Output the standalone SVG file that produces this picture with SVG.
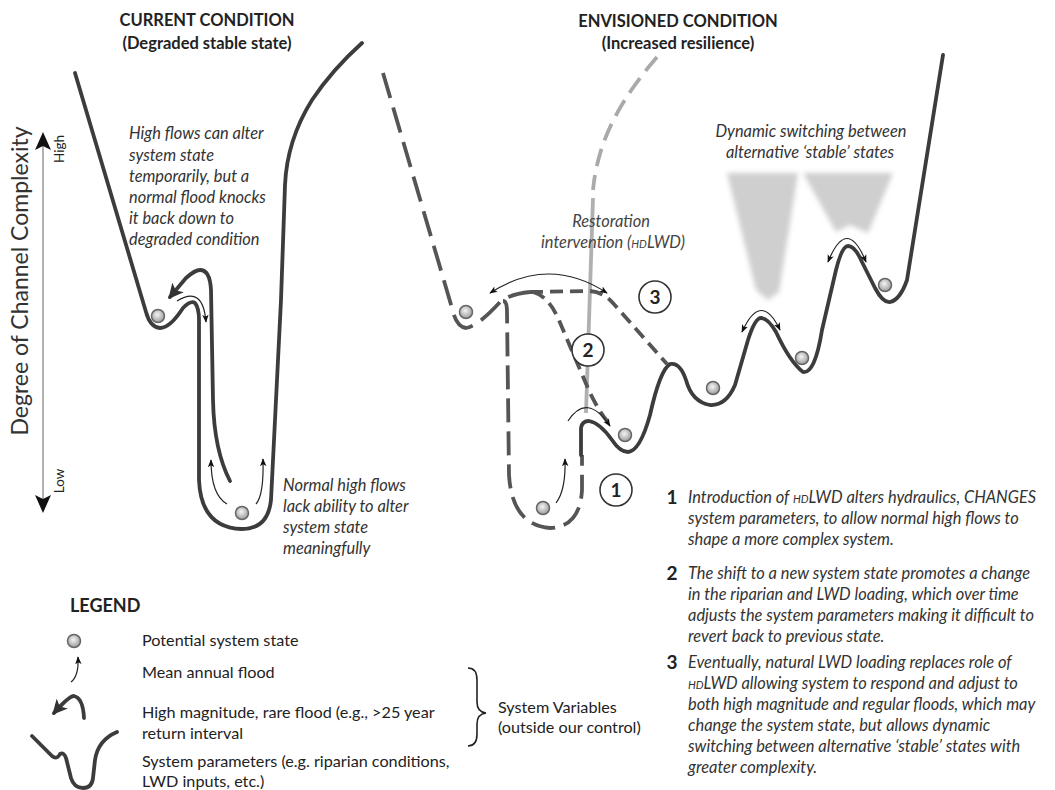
<svg xmlns="http://www.w3.org/2000/svg" width="1055" height="790" viewBox="0 0 1055 790">
<style>
text{font-family:Lato,"Liberation Sans",sans-serif;fill:#222}
.t{font-weight:bold;font-size:16.5px;text-anchor:middle}
.it{font-style:italic;font-size:16.4px;fill:#333}
.lg{font-size:16.2px;fill:#222}
.num{font-weight:bold;font-size:19px;text-anchor:middle}
.sc{font-size:11px}
.prof{fill:none;stroke:#3c3c3c;stroke-width:3.8;stroke-linecap:round;stroke-linejoin:round}
.dash{fill:none;stroke:#555;stroke-width:3.8;stroke-linejoin:round}
.thin{fill:none;stroke:#222;stroke-width:1.2}
.ball{fill:url(#bg);stroke:#666;stroke-width:1.5}
.circ{fill:#fff;stroke:#333;stroke-width:1.6}
</style>
<defs>
<radialGradient id="bg" cx="45%" cy="40%" r="60%"><stop offset="0" stop-color="#f4f4f4"/><stop offset="1" stop-color="#9a9a9a"/></radialGradient>
<marker id="ah" viewBox="0 0 10 10" refX="9" refY="5" markerWidth="8" markerHeight="8" markerUnits="userSpaceOnUse" orient="auto-start-reverse"><path d="M0,1 L10,5 L0,9 L2.5,5 z" fill="#111"/></marker>
<marker id="ahT" viewBox="0 0 12 12" refX="10" refY="6" markerWidth="15" markerHeight="15" markerUnits="userSpaceOnUse" orient="auto"><path d="M0,0 L12,6 L0,12 L3,6 z" fill="#333"/></marker>
<filter id="blur" x="-20%" y="-20%" width="140%" height="140%"><feGaussianBlur stdDeviation="2.5"/></filter>
</defs>
<rect width="1055" height="790" fill="#fff"/>

<g id="titles">
<text class="t" x="207" y="26">CURRENT CONDITION</text>
<text class="t" x="207" y="49">(Degraded stable state)</text>
<text class="t" x="678" y="27">ENVISIONED CONDITION</text>
<text class="t" x="678" y="49">(Increased resilience)</text>
</g>

<g id="axis">
<line x1="43" y1="145" x2="43" y2="500" stroke="#999" stroke-width="1.5"/>
<path d="M43,132 L51,150 L43,146 L35,150 Z" fill="#111"/>
<path d="M43,513 L51,495 L43,499 L35,495 Z" fill="#111"/>
<text x="0" y="0" transform="translate(28,281) rotate(-90)" text-anchor="middle" style="font-size:23px;fill:#333">Degree of Channel Complexity</text>
<text x="0" y="0" transform="translate(64,149) rotate(-90)" text-anchor="middle" style="font-size:13.5px">High</text>
<text x="0" y="0" transform="translate(64,481) rotate(-90)" text-anchor="middle" style="font-size:13.5px">Low</text>
</g>

<g id="current-condition">
<path class="prof" d="M75,73 L146,312 Q150,327 160,328 Q170,328 183,308 Q191,300 195,303 Q199,308 199,320 L199,480 Q201,528 242,529 Q268,529 271,500 L281,300 L285,185 Q287,140 312,100 Q332,70 362,43"/>
<path class="prof" d="M230,481 Q214,450 213,400 L211,290 Q210,270 200,270 Q195,270 186,278 L170,297" marker-end="url(#ahT)"/>
<path class="thin" d="M177,301 Q203,285 206,322" marker-end="url(#ah)"/>
<path class="thin" d="M227,504 Q211,495 211,460" marker-end="url(#ah)"/>
<path class="thin" d="M256,504 Q264,495 263,459" marker-end="url(#ah)"/>
<circle class="ball" cx="158" cy="316" r="6.5"/>
<circle class="ball" cx="242" cy="513" r="6.5"/>
<text class="it" x="129" y="139">High flows can alter</text>
<text class="it" x="129" y="161">system state</text>
<text class="it" x="129" y="182">temporarily, but a</text>
<text class="it" x="129" y="203">normal flood knocks</text>
<text class="it" x="129" y="224">it back down to</text>
<text class="it" x="129" y="245">degraded condition</text>
<text class="it" x="283" y="491">Normal high flows</text>
<text class="it" x="283" y="512">lack ability to alter</text>
<text class="it" x="283" y="533">system state</text>
<text class="it" x="283" y="554">meaningfully</text>
</g>

<g id="envisioned-condition">
<g id="wedges" filter="url(#blur)" fill="#cfcfcf">
<polygon points="727,173 798,173 779,292 768,300 756,290"/>
<polygon points="803,173 893,173 868,233 850,225 836,232"/>
</g>
<path d="M657,57 C622,98 598,138 593,190" fill="none" stroke="#aaa" stroke-width="3.8" stroke-dasharray="18,9"/>
<path d="M593,198 L586,413" fill="none" stroke="#b0b0b0" stroke-width="3.8"/>
<path class="dash" d="M383,73 L452,308 Q456,327 466,328 Q478,326 500,302 Q510,294 530,292" stroke-dasharray="26,10"/>
<path class="dash" d="M503,301 Q507,301 507,312 L509,475 Q512,525 550,528 Q580,527 582,490 L582,455" stroke-dasharray="24,9"/>
<path class="dash" d="M530,292 L590,291 Q603,292 612,302 L667,364" stroke-dasharray="13,7"/>
<path class="dash" d="M533,292 Q548,296 558,318 L590,393 Q600,413 608,422" stroke-dasharray="13,7"/>
<path class="prof" d="M581,455 L581,428 Q582,421 589,421 Q600,423 612,440 Q620,452 628,452 Q640,451 650,415 Q660,370 670,364 Q680,362 686,380 Q692,402 710,405 Q726,406 735,385 L748,340 Q755,318 761,318 Q768,318 776,332 Q790,362 803,372 Q815,374 822,330 L836,270 Q842,246 848,246 Q855,246 862,262 L875,288 Q883,303 890,302 Q900,300 907,280 L943,55"/>
<path class="thin" d="M490,293 Q549,255 607,293" marker-start="url(#ah)" marker-end="url(#ah)"/>
<path class="thin" d="M568,421 Q587,392 610,426" marker-end="url(#ah)"/>
<path class="thin" d="M556,503 Q566,490 565,459" marker-end="url(#ah)"/>
<path class="thin" d="M742,332 Q761,290 780,330" marker-start="url(#ah)" marker-end="url(#ah)"/>
<path class="thin" d="M828,262 Q847,215 866,262" marker-start="url(#ah)" marker-end="url(#ah)"/>
<circle class="ball" cx="466" cy="312" r="6.5"/>
<circle class="ball" cx="543" cy="508" r="6.5"/>
<circle class="ball" cx="625" cy="435" r="6.5"/>
<circle class="ball" cx="713" cy="388" r="6.5"/>
<circle class="ball" cx="802" cy="358" r="6.5"/>
<circle class="ball" cx="885" cy="285" r="6.5"/>
<text class="it" x="611" y="227" text-anchor="middle" style="fill:#444">Restoration</text>
<text class="it" x="613" y="248" text-anchor="middle" style="fill:#444">intervention (<tspan class="sc">HD</tspan>LWD)</text>
<text class="it" x="811" y="137" text-anchor="middle">Dynamic switching between</text>
<text class="it" x="810" y="158" text-anchor="middle">alternative ‘stable’ states</text>
</g>

<g id="step-3"><circle class="circ" cx="655" cy="297" r="16"/><text class="num" x="655" y="304">3</text></g>
<g id="step-2"><circle class="circ" cx="588" cy="350" r="16"/><text class="num" x="588" y="357">2</text></g>
<g id="step-1"><circle class="circ" cx="616" cy="490" r="16"/><text class="num" x="616" y="497">1</text></g>

<g id="notes">
<text class="num" x="672" y="504">1</text>
<text class="it" x="688" y="503">Introduction of <tspan class="sc">HD</tspan>LWD alters hydraulics, CHANGES</text>
<text class="it" x="688" y="524">system parameters, to allow normal high flows to</text>
<text class="it" x="688" y="545">shape a more complex system.</text>
<text class="num" x="672" y="580">2</text>
<text class="it" x="688" y="579">The shift to a new system state promotes a change</text>
<text class="it" x="688" y="600">in the riparian and LWD loading, which over time</text>
<text class="it" x="688" y="621">adjusts the system parameters making it difficult to</text>
<text class="it" x="688" y="642">revert back to previous state.</text>
<text class="num" x="672" y="669">3</text>
<text class="it" x="688" y="668">Eventually, natural LWD loading replaces role of</text>
<text class="it" x="688" y="689"><tspan class="sc">HD</tspan>LWD allowing system to respond and adjust to</text>
<text class="it" x="688" y="710">both high magnitude and regular floods, which may</text>
<text class="it" x="688" y="731">change the system state, but allows dynamic</text>
<text class="it" x="688" y="752">switching between alternative ‘stable’ states with</text>
<text class="it" x="688" y="773">greater complexity.</text>
</g>

<g id="legend">
<text x="70" y="612" style="font-weight:bold;font-size:18px">LEGEND</text>
<circle class="ball" cx="74" cy="641" r="6.5"/>
<path class="thin" d="M71,682 Q79,676 78,657" marker-end="url(#ah)"/>
<path class="prof" d="M84,718 Q83,698 74,696 Q69,696 54,713" marker-end="url(#ahT)"/>
<path class="prof" d="M32,736 L52,756 Q57,760 60,754 Q64,752 66,758 L71,778 Q74,788 83,788 Q92,788 93,778 L95,760 Q98,740 117,732"/>
<text class="lg" x="142" y="646">Potential system state</text>
<text class="lg" x="142" y="678">Mean annual flood</text>
<text class="lg" x="142" y="718">High magnitude, rare flood (e.g., &gt;25 year</text>
<text class="lg" x="142" y="739">return interval</text>
<text class="lg" x="142" y="767">System parameters (e.g. riparian conditions,</text>
<text class="lg" x="142" y="787">LWD inputs, etc.)</text>
<path d="M468,668 Q477,668 477,680 L477,702 Q477,712 486,713 Q477,714 477,724 L477,734 Q477,746 468,746" fill="none" stroke="#222" stroke-width="1.6"/>
<text class="lg" x="498" y="713">System Variables</text>
<text class="lg" x="498" y="733">(outside our control)</text>
</g>
</svg>
